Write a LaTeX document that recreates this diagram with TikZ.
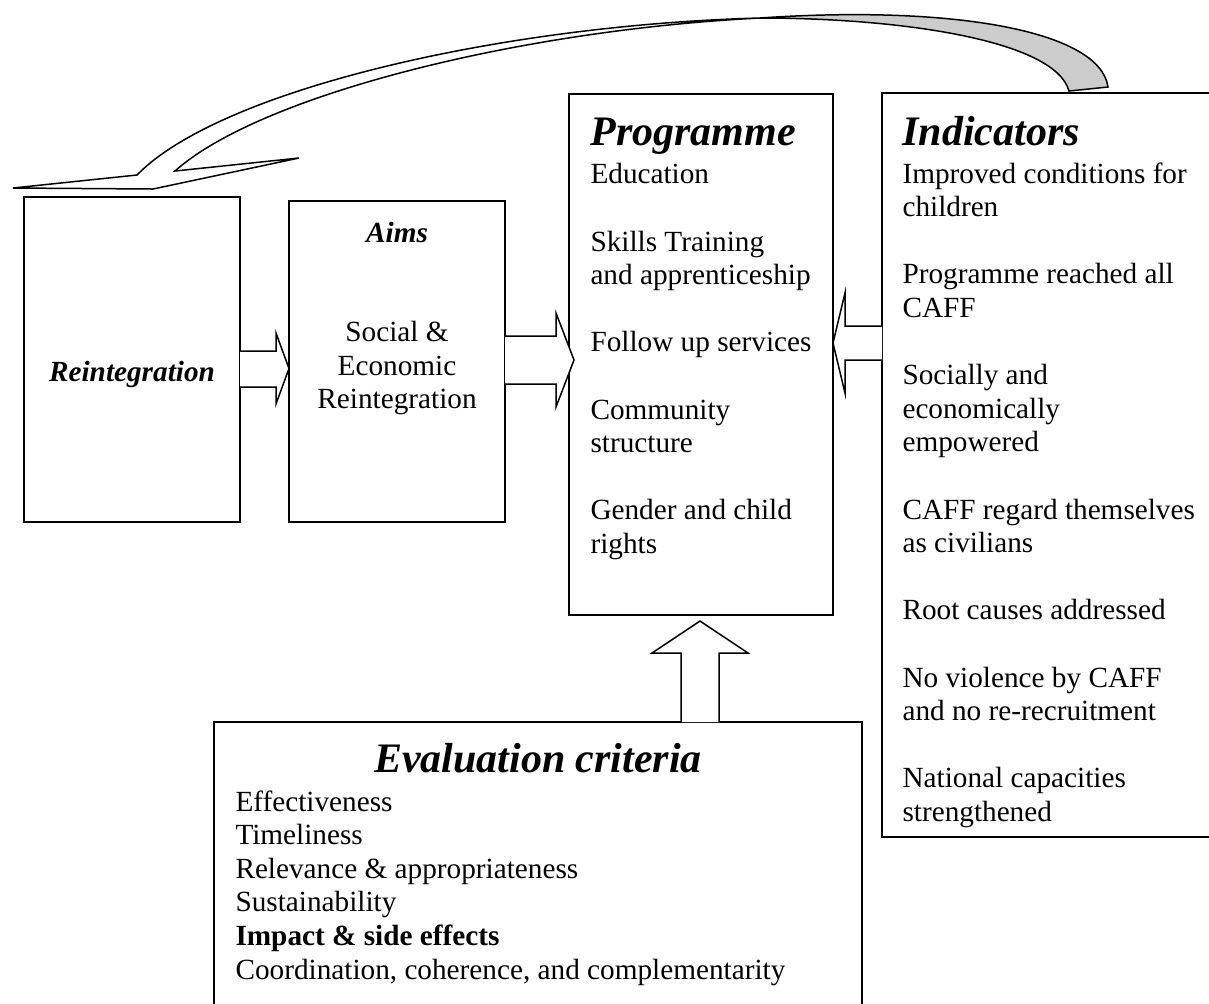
\documentclass[tikz,border=0pt]{standalone}
\usepackage{fontspec}
\setmainfont{Liberation Serif}
\usetikzlibrary{positioning}
\usetikzlibrary{calc}

\tikzset{
 box/.style={draw, line width=0.6pt, inner sep=0pt, outer sep=0pt},
 blockarrow/.style={draw, fill=white, line width=0.6pt, line join=miter},
 titletext/.style={font=\fontsize{16.8}{19}\selectfont\bfseries\itshape, inner sep=0pt},
 bodytext/.style={font=\fontsize{11.7}{13.44}\selectfont, inner sep=0pt},
 listtext/.style={bodytext, align=left}
}

\begin{document}
\begin{tikzpicture}[x=0.4pt, y=-0.4pt]
 \clip (0,0) rectangle (1209,1003);

 \node (reint) [box, minimum width=86.4pt, minimum height=130pt] at (132,359.5) {};
 \node (aims) [box, minimum width=86.4pt, minimum height=128.4pt, right=19.6pt of reint, yshift=-0.8pt] {};
 \node (prog) [box, minimum width=105.6pt, minimum height=208.4pt, right=25.6pt of aims, yshift=2.8pt] {};
 \node (ind) [box, minimum width=132pt, minimum height=297.6pt, right=19.6pt of prog, yshift=-44.2pt] {};
 \node (eval) [box, minimum width=259.2pt, minimum height=115.2pt, below=42.8pt of prog.south, anchor=north, xshift=-65.2pt] {};

 \node (reinttitle) [bodytext, font=\fontsize{11.7}{13.44}\selectfont\bfseries\itshape, anchor=base] at ($(reint.center)+(0,22)$) {Reintegration};

 \node (aimstitle) [bodytext, font=\fontsize{11.7}{13.44}\selectfont\bfseries\itshape, anchor=base] at ($(aims.north)+(0,41)$) {Aims};
 \node (aimstext) [bodytext, align=center] at ($(aims.center)+(0,6.5)$) {Social \&\\Economic\\Reintegration};

 \node (progtitle) [titletext, anchor=base west] at ($(prog.north west)+(21,51)$) {Programme};
 \node (proglist) [listtext, anchor=north west] at ($(prog.north west)+(21,69)$) {Education\\[13.44pt]Skills Training\\and apprenticeship\\[13.44pt]Follow up services\\[13.44pt]Community\\structure\\[13.44pt]Gender and child\\rights};

 \node (indtitle) [titletext, anchor=base west] at ($(ind.north west)+(20,52)$) {Indicators};
 \node (indlist) [listtext, anchor=north west] at ($(ind.north west)+(20,69)$) {Improved conditions for\\children\\[13.44pt]Programme reached all\\CAFF\\[13.44pt]Socially and\\economically\\empowered\\[13.44pt]CAFF regard themselves\\as civilians\\[13.44pt]Root causes addressed\\[13.44pt]No violence by CAFF\\and no re-recruitment\\[13.44pt]National capacities\\strengthened};

 \node (evaltitle) [titletext, anchor=base] at ($(eval.north)+(0,50)$) {Evaluation criteria};
 \node (evallist) [listtext, anchor=north west] at ($(eval.north west)+(21,68)$) {Effectiveness\\Timeliness\\Relevance \& appropriateness\\Sustainability\\\textbf{Impact \& side effects}\\Coordination, coherence, and complementarity};

 % block arrows
 \draw [blockarrow] (reint.east |- 0,351) -- (276,351) -- (276,333) -- (aims.west |- 0,368.5) -- (276,404) -- (276,387) -- (reint.east |- 0,387);
 \draw [blockarrow] (aims.east |- 0,336) -- (556,336) -- (556,313) -- ($(prog.west |- 0,360)+(5,0)$) -- (556,407) -- (556,384) -- (aims.east |- 0,384);
 \draw [blockarrow] (ind.west |- 0,326) -- (845,326) -- (845,293) -- (prog.east |- 0,343) -- (845,393) -- (845,360) -- (ind.west |- 0,360);
 \draw [blockarrow] (eval.north -| 681,0) -- (681,653) -- (652,653) -- ($(prog.south -| 700,0)+(0,6)$) -- (748,653) -- (719,653) -- (eval.north -| 719,0);

 % curved arrow from the indicators back to the start
 \coordinate (tailL) at ($(ind.north west)+(187,-2)$);
 \coordinate (tailR) at ($(ind.north west)+(226,-6)$);
 \coordinate (headtip) at ($(reint.north)+(21,-8)$);
 \coordinate (twist) at (760,18);
 \draw [fill=white, line width=0.6pt, line join=miter] (137,175) .. controls (220,90) and (500,25) .. (twist) .. controls (520,30) and (260,95) .. (175,171) -- (299,158) -- (headtip) -- (13,188) -- cycle;
 \draw [fill=black!20, line width=0.6pt] (twist) .. controls (900,18) and (1055,40) .. (tailL) -- (tailR) .. controls (1100,30) and (950,5) .. (twist) -- cycle;
\end{tikzpicture}
\end{document}
